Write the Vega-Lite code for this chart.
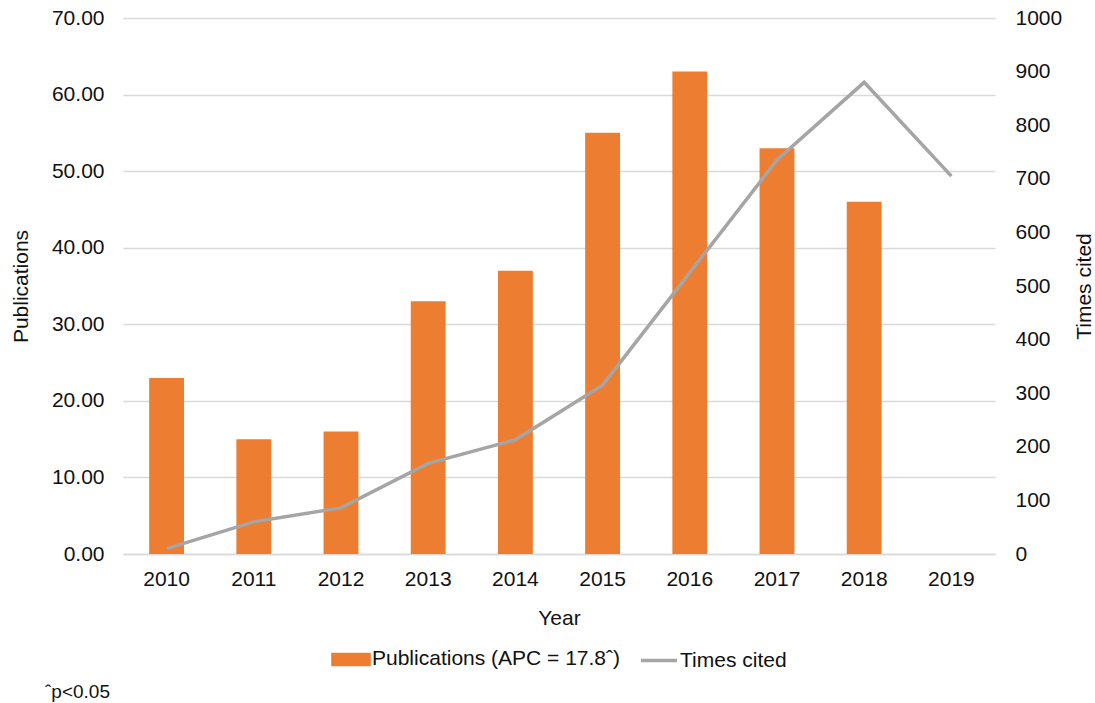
{
  "$schema": "https://vega.github.io/schema/vega-lite/v6.json",
  "width": 872,
  "height": 536,
  "autosize": "none",
  "padding": {"left": 123, "top": 18, "right": 100, "bottom": 149},
  "background": "white",
  "config": {
    "font": "Liberation Sans",
    "view": {"stroke": null},
    "axis": {"labelFontSize": 21, "titleFontSize": 21, "titleFontWeight": "normal", "labelColor": "#111", "titleColor": "#111", "ticks": false, "domain": false},
    "legend": {"layout": {"bottom": {"anchor": "middle"}}}
  },
  "title": {"text": "ˆp<0.05", "orient": "bottom", "anchor": "start", "frame": "group", "fontSize": 19, "fontWeight": "normal", "color": "#111", "dx": -78, "offset": 11},
  "data": {
    "values": [
      {"year": "2010", "publications": 23, "cited": 10},
      {"year": "2011", "publications": 15, "cited": 60},
      {"year": "2012", "publications": 16, "cited": 86},
      {"year": "2013", "publications": 33, "cited": 169},
      {"year": "2014", "publications": 37, "cited": 213},
      {"year": "2015", "publications": 55, "cited": 315},
      {"year": "2016", "publications": 63, "cited": 525},
      {"year": "2017", "publications": 53, "cited": 735},
      {"year": "2018", "publications": 46, "cited": 880},
      {"year": "2019", "publications": null, "cited": 705}
    ]
  },
  "encoding": {
    "x": {
      "field": "year",
      "type": "ordinal",
      "scale": {"paddingInner": 0.6, "paddingOuter": 0.3},
      "axis": {"title": "Year", "labelAngle": 0, "labelPadding": 14, "titlePadding": 18, "domain": true, "domainColor": "#d9d9d9", "domainWidth": 1.5}
    }
  },
  "layer": [
    {
      "mark": {"type": "bar"},
      "encoding": {
        "y": {
          "field": "publications",
          "type": "quantitative",
          "scale": {"domain": [0, 70]},
          "axis": {"title": "Publications", "values": [0, 10, 20, 30, 40, 50, 60, 70], "format": ".2f", "grid": true, "gridColor": "#d9d9d9", "gridWidth": 1.5, "labelPadding": 19, "titlePadding": 20}
        },
        "color": {
          "datum": "Publications (APC = 17.8ˆ)",
          "type": "nominal",
          "scale": {"domain": ["Publications (APC = 17.8ˆ)", "Times cited"], "range": ["#ED7D31", "#A5A5A5"]},
          "legend": {
            "orient": "bottom",
            "direction": "horizontal",
            "title": null,
            "labelFontSize": 21,
            "labelColor": "#111",
            "labelLimit": 500,
            "labelOffset": 1,
            "columnPadding": 12,
            "symbolSize": 1300,
            "offset": 11,
            "encode": {
              "symbols": {
                "update": {
                  "shape": {"signal": "datum.value === 'Times cited' ? 'stroke' : 'M-1,-0.28H1V0.28H-1Z'"},
                  "fill": {"signal": "datum.value === 'Times cited' ? 'transparent' : '#ED7D31'"},
                  "stroke": {"signal": "datum.value === 'Times cited' ? '#A5A5A5' : 'transparent'"},
                  "strokeWidth": {"value": 3.5},
                  "opacity": {"value": 1}
                }
              }
            }
          }
        }
      }
    },
    {
      "mark": {"type": "line", "strokeWidth": 3.5},
      "encoding": {
        "y": {
          "field": "cited",
          "type": "quantitative",
          "scale": {"domain": [0, 1000]},
          "axis": {"orient": "right", "title": "Times cited", "titleAngle": -90, "titleBaseline": "top", "values": [0, 100, 200, 300, 400, 500, 600, 700, 800, 900, 1000], "format": "d", "grid": false, "labelPadding": 20, "titlePadding": 12}
        },
        "color": {"datum": "Times cited", "type": "nominal"}
      }
    }
  ],
  "resolve": {"scale": {"y": "independent"}}
}
